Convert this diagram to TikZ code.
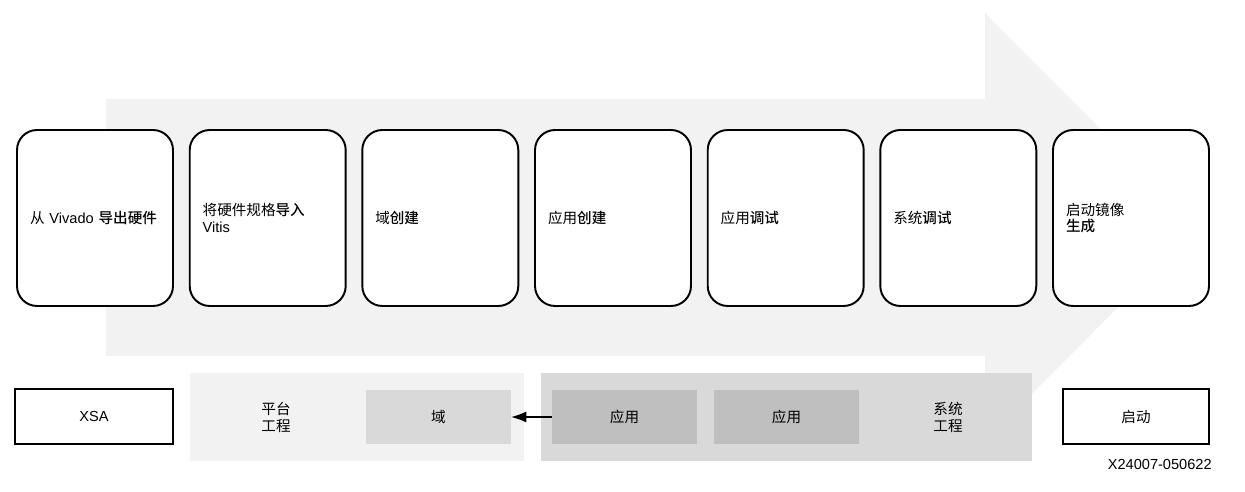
\documentclass[tikz,border=0pt]{standalone}
\usepackage{fontspec}
\setmainfont{Liberation Sans}
\newfontfamily\cjk[BoldFont={Noto Sans CJK SC Medium}]{Noto Sans CJK SC}
\usetikzlibrary{arrows.meta}
\definecolor{flowgray}{HTML}{F2F2F2}
\definecolor{projgray}{HTML}{D9D9D9}
\definecolor{appgray}{HTML}{BFBFBF}
\tikzset{stage/.style={draw=black, line width=1.1pt, fill=white, rounded corners=0.4cm, minimum width=3.12cm, minimum height=3.52cm, text width=2.6cm, inner xsep=0.26cm, align=left, font=\fontsize{8.3}{9.6}\selectfont},
         filebox/.style={draw=black, line width=1.4pt, fill=white, minimum height=1.1cm, inner sep=0pt, font=\fontsize{8.3}{9.6}\selectfont},
         region/.style={inner sep=0pt, minimum height=1.76cm},
         block/.style={inner sep=0pt, minimum width=2.9cm, minimum height=1.08cm, font=\cjk\fontsize{8.3}{9.6}\selectfont},
         zhlabel/.style={align=center, inner sep=0pt, font=\cjk\fontsize{8.3}{9.6}\selectfont}}

\begin{document}
\begin{tikzpicture}[x=0.02cm, y=-0.02cm]
  \useasboundingbox (0,0) rectangle (1245,492);
  % flow arrow behind the stages
  \fill[flowgray] (106,99) -- (985,99) -- (985,13) -- (1198,227) -- (985,441) -- (985,356) -- (106,356) -- cycle;

  % stages
  \node[stage] (export)   at (  95.0,218) {{\cjk 从} Vivado {\cjk\bfseries 导出硬件}};
  \node[stage] (import)   at ( 267.7,218) {{\cjk 将硬件规格\bfseries 导入}\\Vitis};
  \node[stage] (domcreate) at ( 440.3,218) {{\cjk 域\bfseries 创建}};
  \node[stage] (appcreate) at ( 613.0,218) {{\cjk 应用\bfseries 创建}};
  \node[stage] (appdebug) at ( 785.7,218) {{\cjk 应用\bfseries 调试}};
  \node[stage] (sysdebug) at ( 958.3,218) {{\cjk 系统\bfseries 调试}};
  \node[stage] (bootgen)  at (1131.0,218) {{\cjk 启动镜像}\\{\cjk\bfseries 生成}};

  % projects
  \node[filebox, minimum width=3.16cm] (xsa) at (94,416.5) {XSA};
  \node[region, fill=flowgray, minimum width=6.68cm] (platform) at (357,417) {};
  \node[zhlabel] (platformlbl) at (276,417) {平台\\工程};
  \node[block, fill=projgray] (domain) at (438.5,417) {域};
  \node[region, fill=projgray, minimum width=9.82cm] (system) at (786.5,417) {};
  \node[block, fill=appgray] (appa) at (624.5,417) {应用};
  \node[block, fill=appgray] (appb) at (786.5,417) {应用};
  \node[zhlabel] (systemlbl) at (948,417) {系统\\工程};
  \node[filebox, font=\cjk\fontsize{8.3}{9.6}\selectfont, minimum width=2.92cm] (boot) at (1136,416.5) {启动};
  \draw[-{Latex[length=0.3cm,width=0.22cm]}, line width=0.6pt] (appa.west) -- (domain.east);

  \node[anchor=east, inner sep=0pt, font=\fontsize{8.3}{9.6}\selectfont] (figid) at (1212,464) {X24007-050622};
\end{tikzpicture}
\end{document}
